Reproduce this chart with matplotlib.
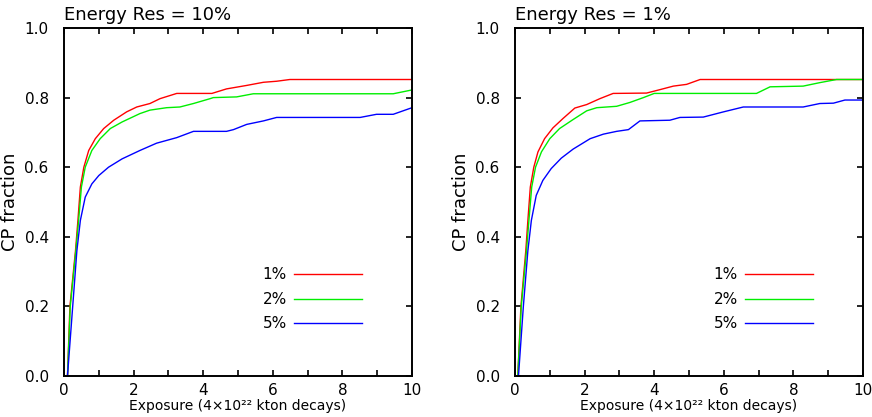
import matplotlib
matplotlib.use("Agg")
import matplotlib.pyplot as plt
from matplotlib.ticker import MultipleLocator, FormatStrFormatter

# ---- data: left panel (Energy Res = 10%) ----
L_red_x = [0.10, 0.17, 0.33, 0.40, 0.47, 0.57, 0.71, 0.90, 1.14, 1.43, 1.80, 2.09, 2.47, 2.76, 3.24, 4.25, 4.67, 5.25, 5.73, 6.11, 6.49, 10.0]
L_red_y = [0.0, 0.20, 0.36, 0.447, 0.543, 0.600, 0.648, 0.682, 0.711, 0.735, 0.759, 0.773, 0.783, 0.797, 0.812, 0.812, 0.825, 0.835, 0.844, 0.847, 0.852, 0.852]
L_green_x = [0.10, 0.18, 0.34, 0.42, 0.50, 0.61, 0.80, 1.04, 1.33, 1.67, 2.18, 2.47, 2.95, 3.33, 3.72, 4.20, 4.29, 4.96, 5.44, 9.46, 10.0]
L_green_y = [0.0, 0.20, 0.36, 0.447, 0.543, 0.600, 0.648, 0.682, 0.711, 0.730, 0.754, 0.764, 0.771, 0.773, 0.783, 0.797, 0.800, 0.802, 0.811, 0.811, 0.822]
L_blue_x = [0.10, 0.25, 0.37, 0.47, 0.61, 0.80, 1.00, 1.28, 1.67, 2.18, 2.66, 3.24, 3.72, 4.67, 4.87, 5.25, 5.73, 6.11, 8.51, 8.98, 9.46, 10.0]
L_blue_y = [0.0, 0.20, 0.36, 0.447, 0.514, 0.552, 0.576, 0.600, 0.624, 0.648, 0.669, 0.685, 0.703, 0.703, 0.708, 0.723, 0.733, 0.743, 0.743, 0.752, 0.752, 0.771]

# ---- data: right panel (Energy Res = 1%) ----
R_red_x = [0.08, 0.17, 0.31, 0.37, 0.44, 0.54, 0.66, 0.85, 1.09, 1.38, 1.72, 2.06, 2.44, 2.82, 3.78, 4.17, 4.55, 4.93, 5.32, 10.0]
R_red_y = [0.0, 0.20, 0.36, 0.447, 0.543, 0.600, 0.644, 0.682, 0.713, 0.740, 0.770, 0.780, 0.797, 0.812, 0.813, 0.823, 0.833, 0.838, 0.852, 0.852]
R_green_x = [0.08, 0.18, 0.33, 0.40, 0.48, 0.59, 0.76, 1.00, 1.28, 1.67, 2.06, 2.35, 2.92, 3.30, 3.69, 4.00, 6.94, 7.33, 8.28, 8.76, 9.24, 10.0]
R_green_y = [0.0, 0.20, 0.36, 0.447, 0.543, 0.600, 0.644, 0.682, 0.711, 0.737, 0.762, 0.771, 0.775, 0.786, 0.800, 0.812, 0.812, 0.831, 0.833, 0.843, 0.852, 0.852]
R_blue_x = [0.10, 0.24, 0.37, 0.47, 0.61, 0.80, 1.04, 1.33, 1.67, 2.16, 2.54, 2.92, 3.26, 3.59, 4.45, 4.74, 5.41, 5.99, 6.56, 8.28, 8.76, 9.15, 9.48, 10.0]
R_blue_y = [0.0, 0.20, 0.36, 0.447, 0.519, 0.562, 0.596, 0.626, 0.652, 0.682, 0.695, 0.703, 0.708, 0.733, 0.735, 0.743, 0.744, 0.759, 0.773, 0.773, 0.783, 0.784, 0.793, 0.793]

titles = ["Energy Res = 10%", "Energy Res = 1%"]
labels = ["1%", "2%", "5%"]
colors = ["#ff0000", "#00ee00", "#0000ff"]
xlabel = "Exposure (4×10²² kton decays)"
ylabel = "CP fraction"

panels = [
    [(L_red_x, L_red_y), (L_green_x, L_green_y), (L_blue_x, L_blue_y)],
    [(R_red_x, R_red_y), (R_green_x, R_green_y), (R_blue_x, R_blue_y)],
]

plt.rcParams['font.family'] = ['DejaVu Sans']
fig = plt.figure(figsize=(8.72, 4.17), dpi=100)
W, H = 872.0, 417.0
axes_rects = [
    [64 / W, (H - 376) / H, 348 / W, 348 / H],
    [515 / W, (H - 376) / H, 348 / W, 348 / H],
]

for rect, title, series in zip(axes_rects, titles, panels):
    ax = fig.add_axes(rect)
    for (xs, ys), lab, col in zip(series, labels, colors):
        ax.plot(xs, ys, color=col, lw=1.0, label=lab)
    ax.set_xlim(0, 10)
    ax.set_ylim(0, 1.0)
    ax.xaxis.set_major_locator(MultipleLocator(2))
    ax.xaxis.set_minor_locator(MultipleLocator(1))
    ax.yaxis.set_major_locator(MultipleLocator(0.2))
    ax.yaxis.set_major_formatter(FormatStrFormatter('%.1f'))
    ax.tick_params(which='both', direction='in', top=True, right=True,
                   length=4, width=1.2)
    ax.tick_params(axis='x', which='major', labelsize=11, pad=5)
    ax.tick_params(axis='y', which='major', labelsize=11, pad=11)
    for sp in ax.spines.values():
        sp.set_linewidth(1.4)
    ax.set_title(title, loc='left', fontsize=13, pad=6)
    ax.set_xlabel(xlabel, fontsize=10, labelpad=1)
    ax.set_ylabel(ylabel, fontsize=13, labelpad=4)
    ax.legend(loc='center right', bbox_to_anchor=(0.855, 0.22),
              frameon=False, markerfirst=False, fontsize=11,
              handlelength=4.45, handletextpad=0.45, labelspacing=0.62,
              borderpad=0, borderaxespad=0)

fig.savefig("out.png", dpi=100)
